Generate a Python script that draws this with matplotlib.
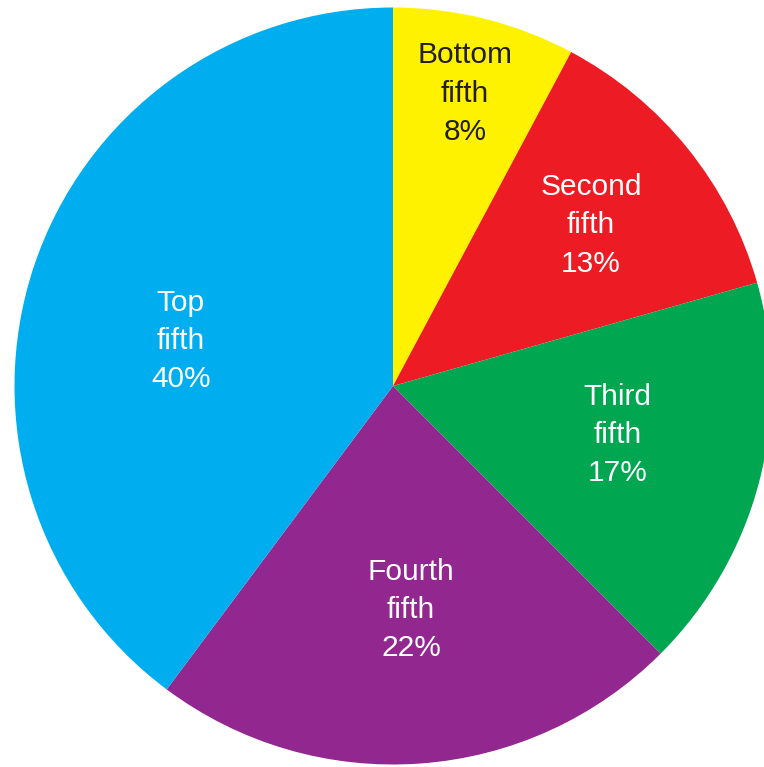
import numpy as np
import matplotlib.pyplot as plt

# income share by quintile (wedge sizes)
labels = ['Bottom\nfifth\n8%', 'Second\nfifth\n13%', 'Third\nfifth\n17%',
          'Fourth\nfifth\n22%', 'Top\nfifth\n40%']
shares = [7.8, 12.8, 16.9, 22.7, 39.8]
colors = ['#FFF200', '#ED1C24', '#00A650', '#92278F', '#00AEEF']
text_colors = ['#231F20', 'white', 'white', 'white', 'white']

# label placement tweaks (fraction of radius, angle shift in degrees)
label_r = [0.795, 0.674, 0.608, 0.594, 0.573]
label_shift = [0.2, 0.2, 2.3, 0.5, 6.4]

plt.rcParams['font.family'] = ['Liberation Sans', 'DejaVu Sans']

fig = plt.figure(figsize=(7.64, 7.67), dpi=100)
ax = fig.add_axes([0, 0, 1, 1])

wedges, _ = ax.pie(shares, colors=colors, startangle=90, counterclock=False,
                   radius=1.0, wedgeprops=dict(linewidth=0))

for w, lab, tc, r, sh in zip(wedges, labels, text_colors, label_r, label_shift):
    mid = np.deg2rad((w.theta1 + w.theta2) / 2 + sh)
    ax.text(r * np.cos(mid), r * np.sin(mid), lab, ha='center', va='center',
            color=tc, fontsize=21.5, linespacing=1.47)

# pie centre sits at (393, 386) px with a 378.5 px radius
ax.set_xlim(-393 / 378.5, (764 - 393) / 378.5)
ax.set_ylim(-(767 - 386) / 378.5, 386 / 378.5)
ax.set_aspect('auto')
ax.axis('off')

fig.savefig('out.png', dpi=100)
